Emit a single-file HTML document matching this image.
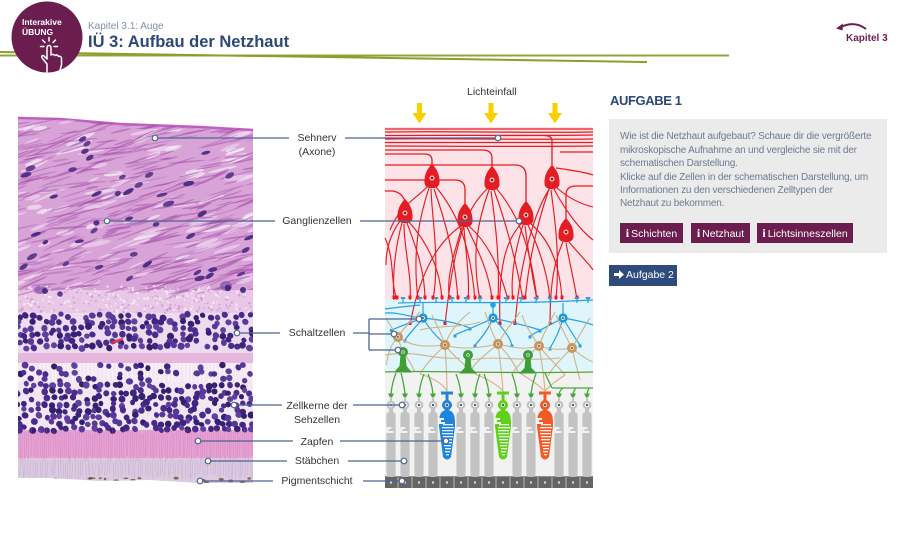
<!DOCTYPE html>
<html><head><meta charset="utf-8">
<style>
*{margin:0;padding:0;box-sizing:border-box}
html,body{width:900px;height:536px;overflow:hidden;background:#fff}
body{position:relative;font-family:"Liberation Sans",Arial,sans-serif}
.a{position:absolute;left:0;top:0}
.t{position:absolute;white-space:nowrap}
.lbl{position:absolute;left:262px;width:110px;text-align:center;font-size:10.5px;line-height:14px;color:#333;white-space:nowrap}
.btn{position:absolute;top:223px;height:20px;background:#6c1d4f;color:#fff;font-size:10.5px;line-height:20px;text-align:center;white-space:nowrap}
.btn b{font-family:"Liberation Serif",serif;font-size:12px;margin-right:2px}
</style></head><body>

<!-- BASE SVG: header + histology base -->
<svg class="a" width="900" height="536" viewBox="0 0 900 536">
<defs>
<clipPath id="hc"><path d="M18 118L60 119L120 124L200 127L253 130L253 483L200 483L150 480L100 481L50 478L18 478Z"/></clipPath>
</defs>
<path d="M0 55.5H729" stroke="#8ea33a" stroke-width="2"/>
<path d="M0 52L647 62" stroke="#8a9f2c" stroke-width="2"/>
<circle cx="47" cy="37" r="35.5" fill="#6c1d4f"/>
<g fill="none" stroke="#fff" stroke-width="1.5" stroke-linecap="round" stroke-linejoin="round">
<path d="M47 72V64L42.5 58.5Q40.5 55.5 43.5 55.5L47 59V48Q47 45.5 49 45.5Q51 45.5 51 48V55Q53 53.5 55 55.5Q57 54 58.5 56.5Q60.5 55.5 61.5 58V65L59.5 72"/>
<path d="M49 41V37.5M45 42.5L42.5 40M53 42.5L55.5 40M44 46.5H40.5M54 46.5H57.5"/>
</g>
<path d="M866 29Q854 20 840 27.5" fill="none" stroke="#6c1d4f" stroke-width="2"/>
<path d="M836 28.5L843 23.5L842.5 30.5Z" fill="#6c1d4f"/>
<g fill="#f6d000">
<path d="M417 103h5v10h4.5l-7 10.5l-7-10.5h4.5z"/>
<path d="M488.5 103h5v10h4.5l-7 10.5l-7-10.5h4.5z"/>
<path d="M552.5 103h5v10h4.5l-7 10.5l-7-10.5h4.5z"/>
</g>
<g clip-path="url(#hc)">
<rect x="15" y="110" width="240" height="180" fill="#d8a4d8"/>
<rect x="15" y="290" width="240" height="23" fill="#e9c8e7"/>
<rect x="15" y="313" width="240" height="40" fill="#eddcf0"/>
<rect x="15" y="353" width="240" height="10" fill="#e6b8de"/>
<rect x="15" y="363" width="240" height="67" fill="#f3e7f3"/>
<rect x="15" y="430" width="240" height="28" fill="#e6a2d2"/>
<rect x="15" y="458" width="240" height="30" fill="#dccbe0"/>
</g>
<path d="M18 118L60 119L120 124L200 127L253 130" fill="none" stroke="#c35fc0" stroke-width="2.5"/>
</svg>

<div id="hd" class="a" style="width:900px;height:536px"></div>

<svg class="a" width="900" height="536" viewBox="0 0 900 536">
<defs>
<g id="rod">
<path d="M-3 393.5h6l-2 4h-2z" fill="#47a83a"/>
<rect x="-1" y="397" width="2" height="4" fill="#c3c3c3"/>
<circle cx="0" cy="405" r="4.4" fill="#c3c3c3"/>
<circle cx="0" cy="405" r="2.1" fill="#f2f2f2"/>
<circle cx="0" cy="405" r="1" fill="#333"/>
<rect x="-2" y="408" width="4" height="6" fill="#c3c3c3"/>
<rect x="-4.6" y="412" width="9.2" height="65" rx="3" fill="#c3c3c3"/>
<path d="M-4.6 427h5v2h-3v2h5v2h-7z" fill="#f3f3f3"/>
</g>
<g id="cone">
<rect x="-6" y="391.5" width="12" height="3" fill="currentColor"/>
<rect x="-1.5" y="394" width="3" height="7" fill="currentColor"/>
<circle cx="0" cy="405" r="5" fill="currentColor"/>
<circle cx="0" cy="405" r="2.2" fill="#fff" fill-opacity=".7"/>
<circle cx="0" cy="405" r="1" fill="#333"/>
<rect x="-2.5" y="409" width="5" height="4" fill="currentColor"/>
<path d="M-4 411C-8 414-8 419-8 426L-4 457Q0 462 4 457L8 426C8 419 8 414 4 411Z" fill="currentColor"/>
<g fill="#fff" fill-opacity=".9">
<path d="M-8 418h5v2h-3v2h4v2h-6z"/>
<rect x="-4" y="424" width="10" height="1.3"/>
<rect x="-5" y="427" width="12" height="1.3"/>
<rect x="-5" y="430" width="11" height="1.3"/>
<rect x="-5" y="433" width="11" height="1.3"/>
<rect x="-4" y="436" width="10" height="1.3"/>
<rect x="-4" y="439" width="9" height="1.3"/>
<rect x="-3" y="442" width="8" height="1.3"/>
<rect x="-3" y="445" width="7" height="1.3"/>
<rect x="-2" y="448" width="6" height="1.3"/>
<rect x="-2" y="451" width="5" height="1.3"/>
<rect x="-1" y="454" width="3" height="1.3"/>
</g>
</g>
<g id="gc">
<path d="M0 -14C5 -9 8 -3 7.5 5C7 12 -7 12 -7.5 5C-8 -3 -5 -9 0 -14Z" fill="#e41c23"/>
<circle cx="0" cy="0" r="2.6" fill="#f7a3aa"/>
<circle cx="0" cy="0" r="1.1" fill="#333"/>
</g>
<g id="rt"><rect x="-1.5" y="-3.5" width="3" height="3.5" fill="#e41c23"/></g>
<g id="bt" fill="#2b9fe0"><rect x="-2.2" y="-3" width="4.4" height="2"/><rect x="-0.6" y="-1.5" width="1.2" height="4.5"/></g>
</defs>

<rect x="385" y="127" width="208" height="174" fill="#fde3e7"/>
<rect x="385" y="300" width="208" height="70" fill="#def5fb"/>
<rect x="385" y="370" width="208" height="107" fill="#f2f2f2"/>

<g fill="none" stroke="#e41c23" stroke-width="1.3">
<path d="M385 129H593"/>
<path d="M385 132C450 131 520 133 593 132"/>
<path d="M385 135.5C460 135 520 136 593 135"/>
<path d="M385 139C450 138 520 140 593 139"/>
<path d="M385 142.5H593"/>
<path d="M385 146C450 146 520 147 593 146"/>
<path d="M552 168V141Q552 136 545 135.5"/>
<path d="M492 169V158Q492 150 482 150H385"/>
<path d="M432 167V160Q432 154 424 154H385"/>
<path d="M526 204V176Q526 165 515 165H385"/>
<path d="M465 206V190Q465 180 455 180H385"/>
<path d="M405 202Q403 193 393 191H385"/>
<path d="M566 221V195Q566 186 576 186H593"/>
<path d="M560 152H593"/>
<path d="M556 168C570 170 585 172 593 175"/>
</g>
<g fill="none" stroke="#e41c23" stroke-width="1.15">
<path d="M402 223C396 245 392 270 394 300"/>
<path d="M404 224C404 250 412 275 410 300"/>
<path d="M407 223C415 245 425 270 425 300"/>
<path d="M400 221C390 235 386 250 386 265"/>
<path d="M409 222C425 240 440 265 442 300"/>
<path d="M429 188C420 215 412 250 418 300"/>
<path d="M431 189C432 220 440 260 433 300"/>
<path d="M434 189C445 220 455 255 458 300"/>
<path d="M436 187C455 210 470 240 475 300"/>
<path d="M428 186C415 200 400 205 390 230"/>
<path d="M462 227C455 250 445 280 450 300"/>
<path d="M464 228C466 255 470 280 468 300"/>
<path d="M467 227C478 250 490 275 492 300"/>
<path d="M469 226C490 245 500 270 508 300"/>
<path d="M461 226C440 240 420 270 410 325"/>
<path d="M489 190C480 215 470 250 480 300"/>
<path d="M491 191C495 220 500 260 498 300"/>
<path d="M494 190C505 220 515 255 523 300"/>
<path d="M496 188C515 210 530 240 537 300"/>
<path d="M488 188C470 205 455 230 445 325"/>
<path d="M523 225C515 250 510 280 513 300"/>
<path d="M525 226C528 250 533 280 537 300"/>
<path d="M528 225C540 250 548 275 550 300"/>
<path d="M522 223C505 240 498 270 500 325"/>
<path d="M530 223C550 240 560 265 562 300"/>
<path d="M549 189C540 215 530 250 525 300"/>
<path d="M551 190C555 220 560 255 556 300"/>
<path d="M554 189C565 210 580 230 593 240"/>
<path d="M556 187C570 200 585 205 593 207"/>
<path d="M550 188C535 210 520 260 515 325"/>
<path d="M563 242C555 260 550 280 550 325"/>
<path d="M566 243C570 265 575 285 577 300"/>
<path d="M569 242C580 255 590 265 593 270"/>
<path d="M385 238C395 260 390 280 397 300"/>
</g>
<use href="#gc" x="432" y="178"/>
<use href="#gc" x="492" y="180"/>
<use href="#gc" x="552" y="179"/>
<use href="#gc" x="405" y="213"/>
<use href="#gc" x="465" y="217"/>
<use href="#gc" x="526" y="215"/>
<use href="#gc" x="566" y="232"/>
<use href="#rt" x="394" y="299"/><use href="#rt" x="410" y="299"/><use href="#rt" x="425" y="299"/>
<use href="#rt" x="442" y="299"/><use href="#rt" x="418" y="299"/><use href="#rt" x="433" y="299"/>
<use href="#rt" x="458" y="299"/><use href="#rt" x="475" y="299"/><use href="#rt" x="450" y="299"/>
<use href="#rt" x="468" y="299"/><use href="#rt" x="492" y="299"/><use href="#rt" x="508" y="299"/>
<use href="#rt" x="480" y="299"/><use href="#rt" x="498" y="299"/><use href="#rt" x="523" y="299"/>
<use href="#rt" x="537" y="299"/><use href="#rt" x="513" y="299"/><use href="#rt" x="550" y="299"/>
<use href="#rt" x="562" y="299"/><use href="#rt" x="525" y="299"/><use href="#rt" x="556" y="299"/>
<use href="#rt" x="577" y="299"/><use href="#rt" x="397" y="299"/>
<use href="#rt" x="410" y="325"/><use href="#rt" x="445" y="325"/><use href="#rt" x="500" y="325"/>
<use href="#rt" x="515" y="325"/><use href="#rt" x="550" y="325"/>

<g fill="none" stroke="#2b9fe0" stroke-width="1.2">
<path d="M398 303C450 301 500 305 593 300"/>
<path d="M385 309C400 307 410 306 420 305"/>
<path d="M385 313C400 312 413 318 423 318"/>
<path d="M423 318V303"/>
<path d="M423 318C412 322 400 326 392 330"/>
<path d="M423 318C415 328 408 335 405 340"/>
<path d="M423 318C430 330 438 338 444 343"/>
<path d="M423 318C440 320 455 322 470 328"/>
<path d="M493 318V305"/>
<path d="M493 318C480 325 465 330 455 335"/>
<path d="M493 318C488 330 480 340 475 345"/>
<path d="M493 318C505 330 510 338 512 345"/>
<path d="M493 318C510 322 525 325 540 330"/>
<path d="M563 318V303"/>
<path d="M563 318C550 325 540 330 530 336"/>
<path d="M563 318C560 330 555 340 550 348"/>
<path d="M563 318C570 330 575 338 580 345"/>
<path d="M563 318C575 320 585 322 593 325"/>
</g>
<g fill="#2b9fe0">
<rect x="390" y="329" width="3" height="3"/><rect x="403.5" y="339.5" width="3" height="3"/>
<rect x="442.5" y="342" width="3" height="3"/><rect x="468.5" y="327.5" width="3" height="3"/>
<rect x="453.5" y="334.5" width="3" height="3"/><rect x="473.5" y="344.5" width="3" height="3"/>
<rect x="510.5" y="344.5" width="3" height="3"/><rect x="538.5" y="329.5" width="3" height="3"/>
<rect x="528.5" y="335.5" width="3" height="3"/><rect x="548.5" y="347.5" width="3" height="3"/>
<rect x="578.5" y="344.5" width="3" height="3"/>
<circle cx="493" cy="305" r="2.8"/>
</g>
<use href="#bt" x="420" y="300"/><use href="#bt" x="436" y="300"/><use href="#bt" x="452" y="300"/>
<use href="#bt" x="466" y="300"/><use href="#bt" x="480" y="300"/><use href="#bt" x="506" y="300"/>
<use href="#bt" x="521" y="300"/><use href="#bt" x="536" y="300"/><use href="#bt" x="550" y="300"/>
<use href="#bt" x="577" y="300"/><use href="#bt" x="588" y="300"/><use href="#bt" x="403" y="300"/>
<g>
<circle cx="423" cy="318" r="4.6" fill="#1f95dc"/><circle cx="423" cy="318" r="2" fill="#bfe6fb"/><circle cx="423" cy="318" r="0.9" fill="#333"/>
<circle cx="493" cy="318" r="4.6" fill="#1f95dc"/><circle cx="493" cy="318" r="2" fill="#bfe6fb"/><circle cx="493" cy="318" r="0.9" fill="#333"/>
<circle cx="563" cy="318" r="4.6" fill="#1f95dc"/><circle cx="563" cy="318" r="2" fill="#bfe6fb"/><circle cx="563" cy="318" r="0.9" fill="#333"/>
</g>

<g fill="none" stroke="#d4b184" stroke-width="1.1">
<path d="M398 337C405 325 415 318 420 312"/>
<path d="M398 337C390 345 388 355 386 365"/>
<path d="M398 337C410 345 420 348 445 345"/>
<path d="M398 337C400 350 410 360 415 372"/>
<path d="M398 337C392 328 388 322 386 318"/>
<path d="M445 345C450 330 460 320 470 312"/>
<path d="M445 345C440 330 435 322 432 315"/>
<path d="M445 345C460 350 480 348 498 344"/>
<path d="M445 345C446 360 447 375 447 392"/>
<path d="M445 345C435 355 425 365 420 374"/>
<path d="M445 345C455 358 465 365 475 374"/>
<path d="M498 344C505 330 515 320 520 312"/>
<path d="M498 344C490 330 488 320 485 312"/>
<path d="M498 344C515 348 525 350 539 346"/>
<path d="M498 344C500 360 502 375 503 392"/>
<path d="M498 344C485 355 475 362 470 372"/>
<path d="M498 344C510 356 515 365 518 372"/>
<path d="M539 346C545 330 550 322 555 312"/>
<path d="M539 346C530 332 525 325 522 315"/>
<path d="M539 346C552 350 560 350 572 348"/>
<path d="M539 346C542 362 544 378 545 392"/>
<path d="M539 346C528 356 520 362 512 374"/>
<path d="M539 346C550 360 560 368 565 375"/>
<path d="M572 348C580 335 585 325 590 318"/>
<path d="M572 348C565 335 560 325 556 315"/>
<path d="M572 348C580 355 588 360 593 362"/>
<path d="M572 348C575 362 578 372 580 380"/>
<path d="M572 348C560 360 552 368 548 376"/>
<path d="M420 330C440 325 460 328 480 322"/>
<path d="M385 355C420 350 430 360 460 358"/>
<path d="M470 360C500 355 520 362 560 358"/>
<path d="M420 374Q440 380 447 391"/>
<path d="M475 374Q495 382 503 391"/>
<path d="M518 372Q535 382 545 391"/>
<path d="M565 375Q550 385 545 391"/>
</g>
<g>
<circle cx="398" cy="337" r="5" fill="#c8955c"/><circle cx="398" cy="337" r="2" fill="#f0d9b8"/><circle cx="398" cy="337" r="0.9" fill="#333"/>
<circle cx="445" cy="345" r="5" fill="#c8955c"/><circle cx="445" cy="345" r="2" fill="#f0d9b8"/><circle cx="445" cy="345" r="0.9" fill="#333"/>
<circle cx="498" cy="344" r="5" fill="#c8955c"/><circle cx="498" cy="344" r="2" fill="#f0d9b8"/><circle cx="498" cy="344" r="0.9" fill="#333"/>
<circle cx="539" cy="346" r="5" fill="#c8955c"/><circle cx="539" cy="346" r="2" fill="#f0d9b8"/><circle cx="539" cy="346" r="0.9" fill="#333"/>
<circle cx="572" cy="348" r="5" fill="#c8955c"/><circle cx="572" cy="348" r="2" fill="#f0d9b8"/><circle cx="572" cy="348" r="0.9" fill="#333"/>
</g>

<g fill="none" stroke="#47a83a" stroke-width="1.3">
<path d="M385 372C430 370 480 374 593 372"/>
<path d="M552 388H593"/>
<path d="M552 388Q548 380 545 373"/>
<path d="M396 373Q392 383 391 394"/>
<path d="M401 373Q404 384 405 394"/>
<path d="M424 374Q420 384 419 394"/>
<path d="M428 374Q432 384 433 394"/>
<path d="M456 374Q460 384 461 394"/>
<path d="M480 374Q476 384 475 394"/>
<path d="M484 374Q488 384 489 394"/>
<path d="M512 374Q516 384 517 394"/>
<path d="M536 374Q532 384 531 394"/>
<path d="M563 388Q560 390 559 394"/>
<path d="M576 388Q574 390 573 394"/>
<path d="M589 388Q588 390 587 394"/>
</g>
<g fill="#3f9e36">
<path d="M400.5 355L399.5 366L394 372.5H412L406.5 366L405.5 355Z"/><circle cx="403" cy="352" r="5"/>
<path d="M465.5 358L464.5 368L459 373.5H477L471.5 368L470.5 358Z"/><circle cx="468" cy="355" r="5"/>
<path d="M525.5 358L524.5 368L519 373.5H537L531.5 368L530.5 358Z"/><circle cx="528" cy="355" r="5"/>
</g>
<g fill="#c8ecc2"><circle cx="403" cy="352" r="1.8"/><circle cx="468" cy="355" r="1.8"/><circle cx="528" cy="355" r="1.8"/></g>
<g fill="#333"><circle cx="403" cy="352" r="0.8"/><circle cx="468" cy="355" r="0.8"/><circle cx="528" cy="355" r="0.8"/></g>

<rect x="385" y="476" width="208" height="12" fill="#8e8e8e"/>
<g fill="#656565">
<rect x="385" y="477" width="12" height="11"/><rect x="399" y="477" width="12" height="11"/><rect x="413" y="477" width="12" height="11"/>
<rect x="427" y="477" width="12" height="11"/><rect x="441" y="477" width="12" height="11"/><rect x="455" y="477" width="12" height="11"/>
<rect x="469" y="477" width="12" height="11"/><rect x="483" y="477" width="12" height="11"/><rect x="497" y="477" width="12" height="11"/>
<rect x="511" y="477" width="12" height="11"/><rect x="525" y="477" width="12" height="11"/><rect x="539" y="477" width="12" height="11"/>
<rect x="553" y="477" width="12" height="11"/><rect x="567" y="477" width="12" height="11"/><rect x="581" y="477" width="12" height="11"/>
</g>
<g fill="#dedede">
<rect x="390" y="481.5" width="2" height="2"/><rect x="404" y="481.5" width="2" height="2"/><rect x="418" y="481.5" width="2" height="2"/>
<rect x="432" y="481.5" width="2" height="2"/><rect x="446" y="481.5" width="2" height="2"/><rect x="460" y="481.5" width="2" height="2"/>
<rect x="474" y="481.5" width="2" height="2"/><rect x="488" y="481.5" width="2" height="2"/><rect x="502" y="481.5" width="2" height="2"/>
<rect x="516" y="481.5" width="2" height="2"/><rect x="530" y="481.5" width="2" height="2"/><rect x="544" y="481.5" width="2" height="2"/>
<rect x="558" y="481.5" width="2" height="2"/><rect x="572" y="481.5" width="2" height="2"/><rect x="586" y="481.5" width="2" height="2"/>
</g>

<use href="#rod" x="391"/><use href="#rod" x="405"/><use href="#rod" x="419"/><use href="#rod" x="433"/>
<use href="#rod" x="461"/><use href="#rod" x="475"/><use href="#rod" x="489"/><use href="#rod" x="517"/>
<use href="#rod" x="531"/><use href="#rod" x="559"/><use href="#rod" x="573"/><use href="#rod" x="587"/>
<use href="#cone" x="447" style="color:#1e84dc"/>
<use href="#cone" x="503" style="color:#5fd11c"/>
<use href="#cone" x="545" style="color:#f25a28"/>

<g fill="none" stroke="#4d6590" stroke-width="1.3">
<path d="M155 138H289M345 138H498"/>
<path d="M107 221H275M360 221H519"/>
<path d="M237 333H280M353 333H369M369 319V350M369 319H419M369 334H394M369 350H398"/>
<path d="M234 405H282M353 405H402"/>
<path d="M198 441H293M340 441H446"/>
<path d="M208 461H287M348 461H404"/>
<path d="M200 481H273M363 481H402"/>
</g>
<g fill="#fff" stroke="#4d6590" stroke-width="1.2">
<circle cx="155" cy="138" r="2.8"/><circle cx="498" cy="138" r="2.8"/>
<circle cx="107" cy="221" r="2.8"/><circle cx="519" cy="221" r="2.8"/>
<circle cx="237" cy="333" r="2.8"/><circle cx="419" cy="319" r="2.8"/><circle cx="394" cy="334" r="2.8"/><circle cx="398" cy="350" r="2.8"/>
<circle cx="234" cy="405" r="2.8"/><circle cx="402" cy="405" r="2.8"/>
<circle cx="198" cy="441" r="2.8"/><circle cx="446" cy="441" r="2.8"/>
<circle cx="208" cy="461" r="2.8"/><circle cx="404" cy="461" r="2.8"/>
<circle cx="200" cy="481" r="2.8"/><circle cx="402" cy="481" r="2.8"/>
</g>
</svg>

<div class="t" style="left:22px;top:17px;font-size:8.5px;line-height:10px;font-weight:bold;color:#fff">Interakive</div>
<div class="t" style="left:22px;top:27px;font-size:8.5px;line-height:10px;font-weight:bold;color:#fff">ÜBUNG</div>
<div class="t" style="left:88px;top:20.5px;font-size:10px;line-height:12px;color:#8390a8">Kapitel 3.1: Auge</div>
<div class="t" style="left:88px;top:32px;font-size:16.5px;line-height:20px;font-weight:bold;color:#2b4878">IÜ 3: Aufbau der Netzhaut</div>
<div class="t" style="left:846px;top:32.5px;font-size:10px;line-height:12px;font-weight:bold;color:#6c1d4f">Kapitel 3</div>

<div class="t" style="left:467px;top:85px;font-size:10.5px;line-height:14px;color:#333">Lichteinfall</div>
<div class="lbl" style="top:131px">Sehnerv<br>(Axone)</div>
<div class="lbl" style="top:214px">Ganglienzellen</div>
<div class="lbl" style="top:326px">Schaltzellen</div>
<div class="lbl" style="top:398.5px">Zellkerne der<br>Sehzellen</div>
<div class="lbl" style="top:435px">Zapfen</div>
<div class="lbl" style="top:454px">Stäbchen</div>
<div class="lbl" style="top:474px">Pigmentschicht</div>

<div class="t" style="left:610px;top:93.5px;font-size:13px;line-height:14px;font-weight:bold;color:#2b4878;letter-spacing:-0.4px">AUFGABE 1</div>
<div style="position:absolute;left:609px;top:119px;width:278px;height:134px;background:#ebebeb"></div>
<div class="t" style="left:620px;top:130.3px;font-size:10px;line-height:13.4px;color:#6d7b90;letter-spacing:-0.2px">Wie ist die Netzhaut aufgebaut? Schaue dir die vergrößerte<br>mikroskopische Aufnahme an und vergleiche sie mit der<br>schematischen Darstellung.<br>Klicke auf die Zellen in der schematischen Darstellung, um<br>Informationen zu den verschiedenen Zelltypen der<br>Netzhaut zu bekommen.</div>
<div class="btn" style="left:620px;width:63px"><b>i</b>Schichten</div>
<div class="btn" style="left:691px;width:59px"><b>i</b>Netzhaut</div>
<div class="btn" style="left:757px;width:96px"><b>i</b>Lichtsinneszellen</div>
<div style="position:absolute;left:609px;top:265px;width:68px;height:21px;background:#2f4b7c;color:#fff;font-size:10.5px;line-height:21px;white-space:nowrap;padding-left:5px">
<svg width="10" height="9" viewBox="0 0 10 9" style="vertical-align:-1px;margin-right:2px"><path d="M0 3h5V0l5 4.5L5 9V6H0z" fill="#fff"/></svg>Aufgabe 2</div>

<script>
(function(){
var s=12345;function R(){s=(s*16807)%2147483647;return s/2147483647;}
function rn(a,b){return a+R()*(b-a);}
var o=[];
function E(cx,cy,rx,ry,rot,f,op){o.push('<ellipse cx="'+cx.toFixed(1)+'" cy="'+cy.toFixed(1)+'" rx="'+rx.toFixed(1)+'" ry="'+ry.toFixed(1)+'" transform="rotate('+rot.toFixed(0)+' '+cx.toFixed(1)+' '+cy.toFixed(1)+')" fill="'+f+'" fill-opacity="'+op.toFixed(2)+'"/>');}
var i,x,y,r;
for(i=0;i<120;i++){E(rn(10,262),rn(120,292),rn(5,16),rn(1,2.6),rn(-24,-6),'#ffffff',rn(.3,.6));}
for(i=0;i<380;i++){E(rn(10,262),rn(120,292),rn(6,22),rn(.5,1.1),rn(-26,-4),'#a24aa6',rn(.3,.6));}
for(i=0;i<42;i++){E(rn(20,250),rn(135,282),rn(3,6),rn(1.6,2.6),rn(-35,-10),'#472880',rn(.8,.95));}
for(i=0;i<320;i++){r=rn(.6,1.4);E(rn(18,253),rn(286,313),r,r,0,R()<.5?'#c98ac8':'#ffffff',.6);}
E(40,290,6,4,0,'#8d5aa8',.8);E(45,291,3,3,0,'#3d2580',.9);E(226,286,6,5,0,'#8d5aa8',.8);E(228,288,3.2,3.2,0,'#3d2580',.9);E(243,290,3,3,0,'#3d2580',.9);E(60,294,2.8,2.8,0,'#4a2c8e',.9);
var pal=['#3d2580','#4a2c8e','#57389a','#342071','#5f3f9f'];
for(y=316;y<353;y+=6.2){for(x=19;x<256;x+=6.8){if(R()<.2)continue;r=rn(2.7,3.6);E(x+rn(-2,2),y+rn(-2,2),r,r*rn(.85,1),rn(0,90),pal[(R()*5)|0],1);}}
E(117,341,7,1.6,-20,'#e2324a',.9);
for(x=20;x<254;x+=4){o.push('<line x1="'+x+'" y1="363" x2="'+(x+rn(-1,1)).toFixed(1)+'" y2="382" stroke="#ffffff" stroke-opacity=".6" stroke-width="1.1"/>');}
for(y=367;y<430;y+=6.2){var p=y<380?.55:.15;for(x=19;x<256;x+=6.8){if(R()<p)continue;r=rn(2.7,3.6);E(x+rn(-2,2),y+rn(-2,2),r,r*rn(.85,1),rn(0,90),pal[(R()*5)|0],1);}}
for(x=18;x<254;x+=2.2){o.push('<line x1="'+x.toFixed(1)+'" y1="'+rn(428,434).toFixed(1)+'" x2="'+(x+rn(-1,1)).toFixed(1)+'" y2="'+rn(455,462).toFixed(1)+'" stroke="#c86fb6" stroke-opacity=".35" stroke-width=".8"/>');}
for(x=18;x<254;x+=2.5){o.push('<line x1="'+x.toFixed(1)+'" y1="'+rn(458,462).toFixed(1)+'" x2="'+(x+rn(-1.5,1.5)).toFixed(1)+'" y2="'+rn(474,480).toFixed(1)+'" stroke="#a48ac0" stroke-opacity=".35" stroke-width=".7"/>');}
for(i=0;i<25;i++){E(rn(20,252),rn(478,484),rn(1,3),rn(.8,1.5),0,'#6e4e34',.8);}
document.getElementById('hd').innerHTML='<svg width="900" height="536" viewBox="0 0 900 536"><defs><clipPath id="hc2"><path d="M18 118L60 119L120 124L200 127L253 130L253 483L200 483L150 480L100 481L50 478L18 478Z"/></clipPath></defs><g clip-path="url(#hc2)">'+o.join('')+'</g></svg>';
})();
</script>
</body></html>
